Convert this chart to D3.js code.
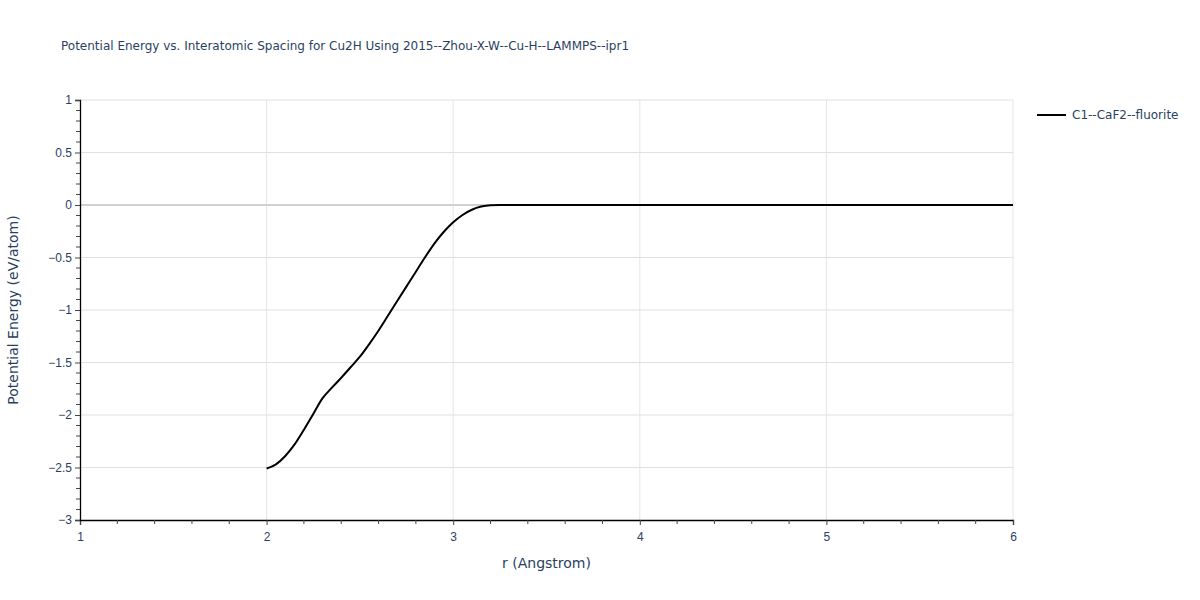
<!DOCTYPE html>
<html><head><meta charset="utf-8">
<script src="https://cdn.jsdelivr.net/npm/d3@7"></script>
<style>body{margin:0;background:#fff}svg{font-family:"DejaVu Sans",verdana,arial,sans-serif}</style>
</head><body><svg id="c" width="1200" height="600"></svg>
<script>
const title = "Potential Energy vs. Interatomic Spacing for Cu2H Using 2015--Zhou-X-W--Cu-H--LAMMPS--ipr1";
const seriesName = "C1--CaF2--fluorite";
const rValues = [2.0,2.05,2.1,2.15,2.2,2.25,2.3,2.35,2.4,2.45,2.5,2.55,2.6,2.65,2.7,2.75,2.8,2.85,2.9,2.95,3.0,3.05,3.1,3.15,3.2,3.25,3.5,4.0,4.5,5.0,5.5,6.0];
const energyValues = [-2.51,-2.47,-2.39,-2.28,-2.14,-1.99,-1.84,-1.74,-1.645,-1.545,-1.445,-1.325,-1.195,-1.055,-0.915,-0.775,-0.635,-0.495,-0.365,-0.255,-0.165,-0.095,-0.045,-0.015,-0.002,0,0,0,0,0,0,0];
const xTicks = [1,2,3,4,5,6];
const yTicks = [1,0.5,0,-0.5,-1,-1.5,-2,-2.5,-3];

const svg = d3.select("#c");
const L=80,R=1013,T=100,B=520;
const x = d3.scaleLinear().domain([1,6]).range([L,R]);
const y = d3.scaleLinear().domain([-3,1]).range([B,T]);
const txt="#2a3f5f";

// grid
svg.append("g").selectAll("line").data(xTicks.filter(d=>d>1)).join("line")
 .attr("x1",d=>x(d)).attr("x2",d=>x(d)).attr("y1",T).attr("y2",B).attr("stroke","#e5e5e5").attr("stroke-width",1);
svg.append("g").selectAll("line").data(yTicks.filter(d=>d>-3)).join("line")
 .attr("x1",L).attr("x2",R).attr("y1",d=>y(d)).attr("y2",d=>y(d)).attr("stroke",d=>d===0?"#d0d0d0":"#e0e0e0").attr("stroke-width",d=>d===0?2:1);

// x axis
const xAxis = d3.axisBottom(x).tickValues(xTicks).tickSize(5).tickFormat(d3.format("d"));
const gx = svg.append("g").attr("transform",`translate(0,${B})`).call(xAxis);
gx.selectAll(".tick line").attr("stroke","#444");
const xMinor = d3.range(1.2,6,0.2).filter(v=>Math.abs(v-Math.round(v))>1e-6);
gx.selectAll(".minor").data(xMinor).join("line").attr("class","minor")
 .attr("x1",d=>x(d)).attr("x2",d=>x(d)).attr("y1",0).attr("y2",4).attr("stroke","#444");
gx.select(".domain").attr("stroke","#000").attr("stroke-width",1.3);
gx.selectAll("text").attr("fill",txt).style("font-size","12px").attr("dy","1.1em");

// y axis
const yAxis = d3.axisLeft(y).tickValues(yTicks).tickSize(5).tickFormat(d=>d3.format("")(d).replace("-","\u2212"));
const gy = svg.append("g").attr("transform",`translate(${L},0)`).call(yAxis);
gy.selectAll(".tick line").attr("stroke","#444");
const yMinor = d3.range(-2.9,1,0.1).filter(v=>Math.abs(v*2-Math.round(v*2))>1e-6);
gy.selectAll(".minor").data(yMinor).join("line").attr("class","minor")
 .attr("x1",-4).attr("x2",0).attr("y1",d=>y(d)).attr("y2",d=>y(d)).attr("stroke","#444");
gy.select(".domain").attr("stroke","#000").attr("stroke-width",1.3);
gy.selectAll("text").attr("fill",txt).style("font-size","12px");

// line
const line = d3.line().x((d,i)=>x(rValues[i])).y((d,i)=>y(energyValues[i])).curve(d3.curveMonotoneX);
svg.append("path").datum(energyValues).attr("d",line).attr("fill","none").attr("stroke","#000").attr("stroke-width",2);

// titles
svg.append("text").attr("x",61).attr("y",50).attr("fill",txt).style("font-size","12px").text(title);
svg.append("text").attr("x",(L+R)/2).attr("y",568).attr("text-anchor","middle").attr("fill",txt).style("font-size","14px").text("r (Angstrom)");
svg.append("text").attr("transform",`translate(18,${(T+B)/2}) rotate(-90)`).attr("text-anchor","middle").attr("fill",txt).style("font-size","14px").text("Potential Energy (eV/atom)");

// legend
svg.append("line").attr("x1",1037).attr("x2",1066).attr("y1",115).attr("y2",115).attr("stroke","#000").attr("stroke-width",2);
svg.append("text").attr("x",1072).attr("y",119).attr("fill",txt).style("font-size","12px").text(seriesName);
</script></body></html>
